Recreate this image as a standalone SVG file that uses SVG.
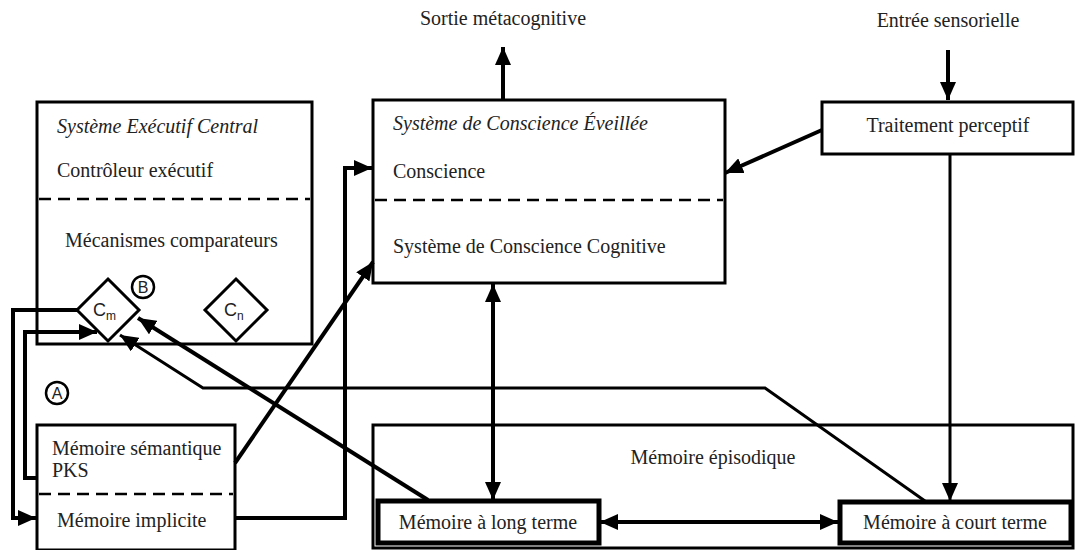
<svg xmlns="http://www.w3.org/2000/svg" width="1075" height="550" viewBox="0 0 1075 550">
<style>
.box{fill:#fff;stroke:#000;stroke-width:3}
.thick{fill:#fff;stroke:#000;stroke-width:5}
.dash{stroke:#000;stroke-width:2.5;stroke-dasharray:12 7;fill:none}
.t{font-family:"Liberation Serif","Times New Roman",serif;font-size:20px;fill:#222}
.it{font-style:italic}
.s{font-family:"Liberation Sans",Arial,sans-serif;fill:#222}
.c{fill:none;stroke:#000;stroke-width:4;stroke-linejoin:miter}
.c3{fill:none;stroke:#000;stroke-width:3}
.circ{fill:#fff;stroke:#000;stroke-width:2.5}
</style>
<defs>
<marker id="ah" markerUnits="userSpaceOnUse" markerWidth="20" markerHeight="16" refX="18" refY="8" orient="auto-start-reverse">
<path d="M0,0 L18,8 L0,16 z" fill="#000"/>
</marker>
</defs>
<rect width="1075" height="550" fill="#fff"/>

<g id="exec">
<rect class="box" x="37" y="102" width="275" height="242"/>
<line class="dash" x1="39" y1="199" x2="310" y2="199"/>
<text class="t it" x="57" y="133">Système Exécutif Central</text>
<text class="t" x="57" y="177">Contrôleur exécutif</text>
<text class="t" x="65" y="247">Mécanismes comparateurs</text>
</g>

<g id="cm">
<polygon points="108,279 139,310 108,341 77,310" fill="#fff" stroke="#000" stroke-width="3"/>
<text class="s" x="93" y="316" font-size="18">C<tspan font-size="12" dy="4">m</tspan></text>
</g>
<g id="cn">
<polygon points="236,279 267,310 236,341 205,310" fill="#fff" stroke="#000" stroke-width="3"/>
<text class="s" x="224" y="316" font-size="18">C<tspan font-size="12" dy="4">n</tspan></text>
</g>
<g id="labelB">
<circle class="circ" cx="143" cy="287" r="11"/>
<text class="s" x="143" y="293" font-size="16" text-anchor="middle">B</text>
</g>
<g id="labelA">
<circle class="circ" cx="57" cy="393" r="11"/>
<text class="s" x="57" y="399" font-size="16" text-anchor="middle">A</text>
</g>

<g id="semantique">
<rect class="box" x="37" y="425" width="198" height="125"/>
<line class="dash" x1="39" y1="494" x2="233" y2="494"/>
<text class="t" x="52" y="455">Mémoire sémantique</text>
<text class="t" x="52" y="477">PKS</text>
<text class="t" x="57" y="527">Mémoire implicite</text>
</g>

<g id="conscience">
<rect class="box" x="373" y="100" width="352" height="183"/>
<line class="dash" x1="375" y1="200" x2="723" y2="200"/>
<text class="t it" x="393" y="130">Système de Conscience Éveillée</text>
<text class="t" x="393" y="178">Conscience</text>
<text class="t" x="393" y="253">Système de Conscience Cognitive</text>
</g>

<g id="traitement">
<rect class="box" x="822" y="102" width="251" height="52"/>
<text class="t" x="948" y="132" text-anchor="middle">Traitement perceptif</text>
</g>

<g id="episodique">
<rect class="box" x="373" y="425" width="700" height="123"/>
<text class="t" x="713" y="464" text-anchor="middle">Mémoire épisodique</text>
</g>
<g id="longterme">
<rect class="thick" x="378" y="501" width="221" height="42"/>
<text class="t" x="488" y="529" text-anchor="middle">Mémoire à long terme</text>
</g>
<g id="courtterme">
<rect class="thick" x="840" y="502" width="231" height="41"/>
<text class="t" x="955" y="529" text-anchor="middle">Mémoire à court terme</text>
</g>

<g id="sortie">
<text class="t" x="503" y="25" text-anchor="middle">Sortie métacognitive</text>
</g>
<g id="entree">
<text class="t" x="948" y="27" text-anchor="middle">Entrée sensorielle</text>
</g>

<g id="connectors">
<line class="c" x1="503" y1="100" x2="503" y2="47" marker-end="url(#ah)"/>
<line class="c" x1="948" y1="50" x2="948" y2="100" marker-end="url(#ah)"/>
<line class="c" x1="822" y1="130" x2="725" y2="173" marker-end="url(#ah)"/>
<line class="c3" x1="950" y1="154" x2="950" y2="501" marker-end="url(#ah)"/>
<line class="c" x1="493" y1="284" x2="493" y2="500" marker-start="url(#ah)" marker-end="url(#ah)"/>
<line class="c" x1="600" y1="522" x2="838" y2="522" marker-start="url(#ah)" marker-end="url(#ah)"/>
<polyline class="c" points="77,310 13,310 13,518 36,518" marker-end="url(#ah)"/>
<polyline class="c" points="37,478 25,478 25,332 97,332" marker-end="url(#ah)"/>
<line class="c" x1="235" y1="463" x2="373" y2="262" marker-end="url(#ah)"/>
<polyline class="c" points="235,518 345,518 345,168 372,168" marker-end="url(#ah)"/>
<line class="c" x1="428" y1="500" x2="138" y2="318" marker-end="url(#ah)"/>
<polyline class="c3" points="925,501 765,388 203,388 120,335" marker-end="url(#ah)"/>
</g>
</svg>
